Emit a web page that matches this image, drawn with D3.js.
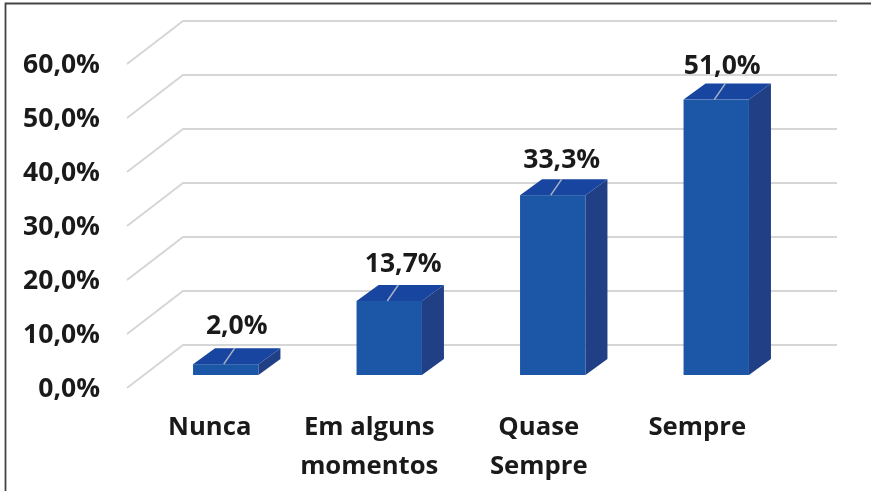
<!DOCTYPE html>
<html>
<head>
<meta charset="utf-8">
<script src="https://cdnjs.cloudflare.com/ajax/libs/d3/7.8.5/d3.min.js"></script>
<style>
   html, body { margin: 0; padding: 0; background: #fff; }
   svg { display: block; filter: blur(0.55px); }
   text { font-family: "Open Sans", Lato, sans-serif; font-weight: 700; fill: #1a1a1a; }
</style>
</head>
<body>
<script>
// Values.
const categories = ["Nunca", "Em alguns momentos", "Quase Sempre", "Sempre"];
const categoryLines = [["Nunca"], ["Em alguns", "momentos"], ["Quase", "Sempre"], ["Sempre"]];
const values = [2.0, 13.7, 33.3, 51.0];
const yTicks = [0, 10, 20, 30, 40, 50, 60];

const width = 871, height = 491;

// Fake 3D: the floor runs back from the front plane to the back wall.
const wallDx = 56, wallDy = -43;   // front plane to back wall
const barInDx = 17, barInDy = -13; // front plane to bar front
const barDx = 22, barDy = -16;     // bar depth

const percent = d => d.toFixed(1).replace(".", ",") + "%";

let svg = d3.select("body").append("svg")
   .attr("width", width)
   .attr("height", height);

// Frame of the pasted picture.
svg.append("path")
   .attr("d", "M5.5," + height + "V3.5H" + width)
   .attr("fill", "none")
   .attr("stroke", "#444")
   .attr("stroke-width", 1.8);

let x = d3.scaleBand()
   .domain(categories)
   .range([127, 781])
   .paddingInner(0.6)
   .paddingOuter(0.3);

let y = d3.scaleLinear()
   .domain([0, 60])
   .range([388, 64]);

// Gridlines along the side wall and the back wall.
svg.selectAll(".grid")
   .data(yTicks)
   .enter()
   .append("path")
   .attr("class", "grid")
   .attr("fill", "none")
   .attr("stroke", "#d6d6d6")
   .attr("stroke-width", 2)
   .attr("d", d => {
      let x0 = x.range()[0], x1 = x.range()[1];
      return "M" + x0 + "," + y(d) + "L" + (x0 + wallDx) + "," + (y(d) + wallDy) + "L" + (x1 + wallDx) + "," + (y(d) + wallDy);
   });

// Y axis labels, no axis line or ticks.
let yAxis = d3.axisLeft(y)
   .tickValues(yTicks)
   .tickFormat(percent)
   .tickSize(0)
   .tickPadding(27);
let yAxisG = svg.append("g")
   .attr("transform", "translate(127,0)")
   .call(yAxis);
yAxisG.select(".domain").remove();
yAxisG.selectAll("text")
   .attr("font-size", 26.5)
   .attr("dy", "0.32em");

// Bars: side face, top face, front face.
let bars = svg.selectAll(".bar")
   .data(categories)
   .enter()
   .append("g")
   .attr("class", "bar")
   .attr("transform", d => "translate(" + (x(d) + barInDx) + "," + barInDy + ")");

const base = y(0);
const bw = x.bandwidth();

bars.append("path")
   .attr("fill", "#213f85")
   .attr("d", (d, i) => {
      let t = y(values[i]);
      return "M" + bw + "," + t + "l" + barDx + "," + barDy + "V" + (base + barDy) + "l" + (-barDx) + "," + (-barDy) + "Z";
   });
bars.append("path")
   .attr("fill", "#18459f")
   .attr("d", (d, i) => {
      let t = y(values[i]);
      return "M0," + t + "l" + barDx + "," + barDy + "h" + bw + "l" + (-barDx) + "," + (-barDy) + "Z";
   });
bars.append("rect")
   .attr("fill", "#1c56a6")
   .attr("x", 0)
   .attr("width", bw)
   .attr("y", (d, i) => y(values[i]))
   .attr("height", (d, i) => base - y(values[i]));

// Leader lines from the labels down onto the bar top.
bars.append("line")
   .attr("stroke", "#a9b4c8")
   .attr("stroke-width", 1.5)
   .attr("x1", bw / 2 - 2)
   .attr("x2", bw / 2 + barDx / 2 - 2)
   .attr("y1", (d, i) => y(values[i]))
   .attr("y2", (d, i) => y(values[i]) + barDy);

// Data labels, nudged by hand like the dragged ones in the picture.
const labelNudgeX = [0, 3, -2, -5];
const labelNudgeY = [-1, 0, 2, 3];
bars.append("text")
   .attr("text-anchor", "middle")
   .attr("font-size", 26.5)
   .attr("x", (d, i) => bw / 2 + barDx / 2 + labelNudgeX[i])
   .attr("y", (d, i) => y(values[i]) + barDy - 13 + labelNudgeY[i])
   .text((d, i) => percent(values[i]));

// Category labels, wrapped as in the picture.
const catNudgeX = [1, -3, 3, -2];
let cats = svg.selectAll(".cat")
   .data(categories)
   .enter()
   .append("text")
   .attr("class", "cat")
   .attr("text-anchor", "middle")
   .attr("font-size", 25.7)
   .attr("y", 435);
cats.selectAll("tspan")
   .data((d, i) => categoryLines[i].map(line => ({ line: line, pos: i })))
   .enter()
   .append("tspan")
   .attr("x", d => x(categories[d.pos]) + bw / 2 + catNudgeX[d.pos])
   .attr("dy", (d, i) => i ? 39 : 0)
   .text(d => d.line);
</script>
</body>
</html>
